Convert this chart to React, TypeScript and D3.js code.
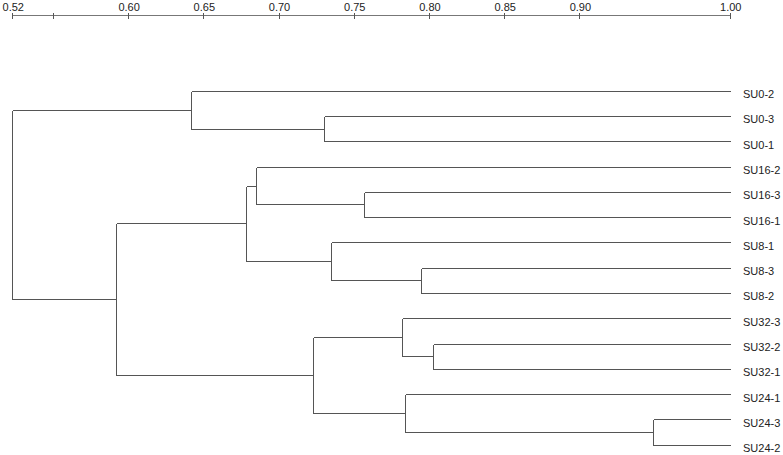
import React from "react";
import * as d3 from "d3";

const leafLabels = [
  "SU0-2", "SU0-3", "SU0-1",
  "SU16-2", "SU16-3", "SU16-1",
  "SU8-1", "SU8-3", "SU8-2",
  "SU32-3", "SU32-2", "SU32-1",
  "SU24-1", "SU24-3", "SU24-2",
];

// linkage: [childA, childB, similarity]; ids 0..14 are leaves, new nodes from 15
const mergeLeft = [1, 0, 4, 3, 7, 6, 18, 10, 9, 13, 12, 23, 21, 16];
const mergeRight = [2, 15, 5, 17, 8, 19, 20, 11, 22, 14, 24, 25, 26, 27];
const mergeSim = [0.730, 0.6415, 0.757, 0.685, 0.795, 0.735, 0.6785, 0.803, 0.782, 0.949, 0.784, 0.723, 0.592, 0.523];

const tickValues = [0.523, 0.55, 0.6, 0.65, 0.7, 0.75, 0.8, 0.85, 0.9, 1.0];
const tickLabels = ["0.52", "", "0.60", "0.65", "0.70", "0.75", "0.80", "0.85", "0.90", "1.00"];
const leafSim = 1.0;

const W = 783;
const H = 455;

export default function App() {
  const x = d3.scaleLinear().domain([0.523, 1.0]).range([12.3, 729.8]);
  const y = d3.scalePoint<string>().domain(leafLabels).range([90.7, 444.7]);

  const n = leafLabels.length;
  const nodeY: number[] = leafLabels.map((l) => y(l) as number);
  const nodeSim: number[] = leafLabels.map(() => leafSim);
  mergeLeft.forEach((a, i) => {
    const b = mergeRight[i];
    nodeY[n + i] = (nodeY[a] + nodeY[b]) / 2;
    nodeSim[n + i] = mergeSim[i];
  });

  const r = (v: number) => Math.round(v) + 0.5;
  const path = d3.path();
  mergeLeft.forEach((a, i) => {
    const b = mergeRight[i];
    const xs = r(x(mergeSim[i]));
    path.moveTo(xs, r(nodeY[a]));
    path.lineTo(xs, r(nodeY[b]));
    [a, b].forEach((c) => {
      path.moveTo(xs, r(nodeY[c]));
      path.lineTo(r(x(nodeSim[c])), r(nodeY[c]));
    });
  });

  const axisY = 15.5;

  return (
    <svg
      width={W}
      height={H}
      style={{ position: "absolute", left: 0, top: 0, background: "#fff" }}
      fontFamily="'Liberation Sans', Arial, sans-serif"
    >
      <g>
        <line
          x1={r(x(tickValues[0]))}
          x2={r(x(1.0))}
          y1={axisY}
          y2={axisY}
          stroke="#777"
          shapeRendering="crispEdges"
        />
        {tickValues.map((t, i) => (
          <g key={i}>
            <line
              x1={r(x(t))}
              x2={r(x(t))}
              y1={13}
              y2={19}
              stroke="#555"
              shapeRendering="crispEdges"
            />
            {tickLabels[i] && (
              <text x={x(t) + 1} y={10.5} fontSize={11} textAnchor="middle" fill="#222">
                {tickLabels[i]}
              </text>
            )}
          </g>
        ))}
      </g>
      <path d={path.toString()} fill="none" stroke="#555" strokeWidth={1} shapeRendering="crispEdges" />
      {leafLabels.map((l) => (
        <text key={l} x={743} y={(y(l) as number) + 7.5} fontSize={11} fill="#222">
          {l}
        </text>
      ))}
    </svg>
  );
}
